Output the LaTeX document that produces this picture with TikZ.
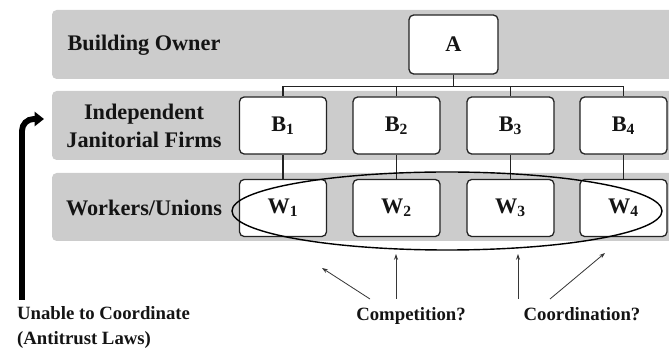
\documentclass[tikz,border=0pt]{standalone}
\usepackage{fontspec}
\setmainfont{Liberation Serif}
\usetikzlibrary{arrows.meta,shapes.geometric}
\definecolor{colorband}{RGB}{204,204,204}
\definecolor{colorline}{RGB}{35,35,35}
\definecolor{colorhint}{RGB}{55,55,55}
\definecolor{colortext}{RGB}{20,20,20}

\begin{document}
\begin{tikzpicture}[
    x=0.03cm, y=-0.03cm,
    font={\fontsize{19}{24}\selectfont\bfseries},
    txt/.style={text=colortext,align=center},
    box/.style={draw=colorline,fill=white,text=colortext,rounded corners=4pt,line width=1.1pt,
        minimum width=2.61cm,minimum height=1.71cm,inner sep=0pt},
    note/.style={text=colortext,font={\fontsize{16}{21.5}\selectfont\bfseries}},
    link/.style={draw=colorline,line width=0.9pt},
    hint/.style={-{Stealth[length=5pt,width=3.5pt]},draw=colorhint,line width=0.7pt},
    blocked/.style={-{Triangle[length=8pt,width=12pt]},draw=black,line width=5pt,rounded corners=10pt},
]

    \useasboundingbox (0,0) rectangle (669,349);

    \fill [colorband,rounded corners=4pt] (52,10) rectangle (690,79);
    \fill [colorband,rounded corners=4pt] (52,91) rectangle (690,160);
    \fill [colorband,rounded corners=4pt] (52,173) rectangle (690,241);

    \node[txt] at (144,45) (owner) {Building Owner};
    \node[txt] at (144,126) (firms) {Independent\\Janitorial Firms};
    \node[txt] at (144,208) (workers) {Workers/Unions};

    \node[box,minimum width=2.67cm,minimum height=1.77cm] at (453.5,44.5) (A) {A};

    \node[box] at (283,125.5) (B1) {B\textsubscript{1}};
    \node[box] at (396.5,125.5) (B2) {B\textsubscript{2}};
    \node[box] at (510.5,125.5) (B3) {B\textsubscript{3}};
    \node[box] at (623.5,125.5) (B4) {B\textsubscript{4}};

    \node[box] at (283,208) (W1) {W\textsubscript{1}};
    \node[box] at (396.5,208) (W2) {W\textsubscript{2}};
    \node[box] at (510.5,208) (W3) {W\textsubscript{3}};
    \node[box] at (623.5,208) (W4) {W\textsubscript{4}};

    \draw[link] (A.south) -- ++(0,12) -| (B1.north);
    \draw[link] (A.south) -- ++(0,12) -| (B2.north);
    \draw[link] (A.south) -- ++(0,12) -| (B3.north);
    \draw[link] (A.south) -- ++(0,12) -| (B4.north);

    \draw[link] (B1.south) -- (W1.north);
    \draw[link] (B2.south) -- (W2.north);
    \draw[link] (B3.south) -- (W3.north);
    \draw[link] (B4.south) -- (W4.north);

    \node[draw=black,line width=1.2pt,ellipse,minimum width=12.9cm,minimum height=2.34cm] at (447,211) (coalition) {};

    \node[note,anchor=west,align=left] at (13,327.5) (unable) {Unable to Coordinate\\(Antitrust Laws)};
    \node[note,anchor=base] at (411,321) (compete) {Competition?};
    \node[note,anchor=base] at (582,321) (coord) {Coordination?};

    \coordinate (rise) at (22,300);
    \coordinate (entry) at (44,119);
    \draw[blocked] (rise) |- (entry);

    \coordinate (c1tail) at (370,299);
    \coordinate (c1head) at (322,268);
    \coordinate (c2tail) at (396,299);
    \coordinate (c2head) at (396,254);
    \coordinate (k1tail) at (518,299);
    \coordinate (k1head) at (518,254);
    \coordinate (k2tail) at (550,299);
    \coordinate (k2head) at (605,253);

    \draw[hint] (c1tail) -- (c1head);
    \draw[hint] (c2tail) -- (c2head);
    \draw[hint] (k1tail) -- (k1head);
    \draw[hint] (k2tail) -- (k2head);

\end{tikzpicture}
\end{document}
